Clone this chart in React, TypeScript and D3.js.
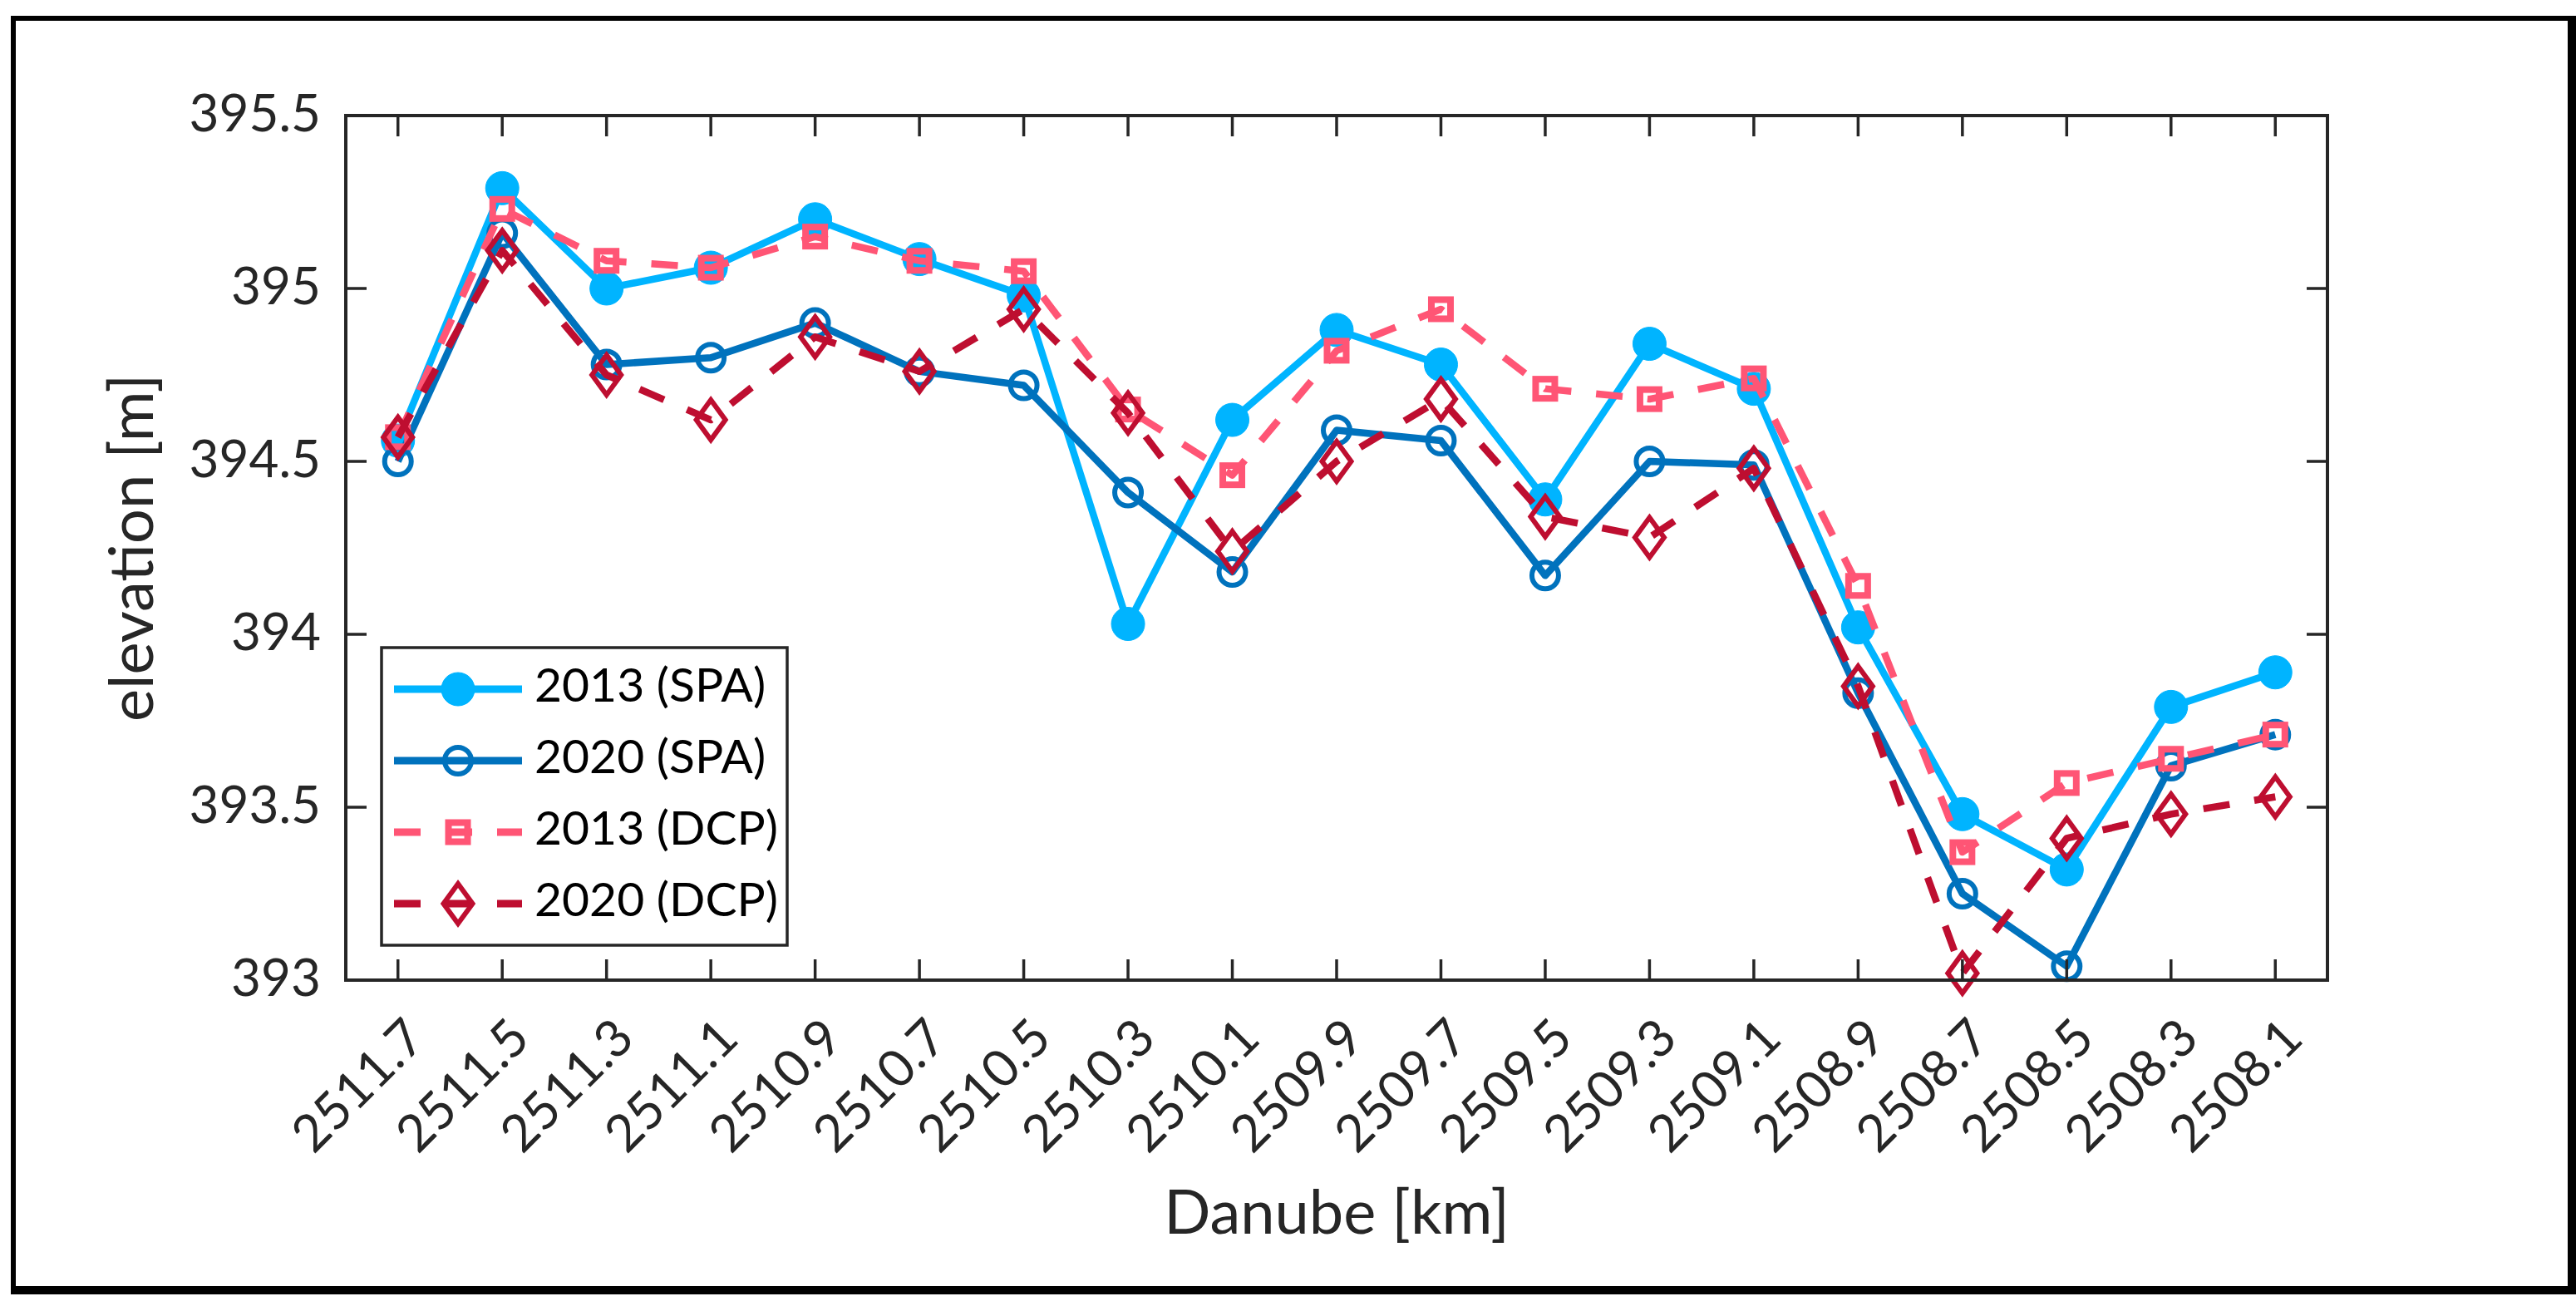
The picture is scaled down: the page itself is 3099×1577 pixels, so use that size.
import React from "react";
import * as d3 from "d3";

const km = [2511.7, 2511.5, 2511.3, 2511.1, 2510.9, 2510.7, 2510.5, 2510.3, 2510.1, 2509.9, 2509.7, 2509.5, 2509.3, 2509.1, 2508.9, 2508.7, 2508.5, 2508.3, 2508.1];
const spa2013 = [394.56, 395.29, 395.0, 395.06, 395.2, 395.085, 394.98, 394.03, 394.62, 394.88, 394.78, 394.39, 394.84, 394.71, 394.02, 393.48, 393.32, 393.79, 393.89];
const spa2020 = [394.5, 395.16, 394.78, 394.8, 394.9, 394.76, 394.72, 394.41, 394.18, 394.59, 394.56, 394.17, 394.5, 394.49, 393.83, 393.25, 393.04, 393.62, 393.71];
const dcp2013 = [394.57, 395.23, 395.08, 395.06, 395.15, 395.08, 395.05, 394.65, 394.46, 394.82, 394.94, 394.71, 394.68, 394.74, 394.14, 393.37, 393.57, 393.64, 393.71];
const dcp2020 = [394.57, 395.11, 394.75, 394.62, 394.86, 394.76, 394.94, 394.64, 394.24, 394.5, 394.68, 394.34, 394.28, 394.48, 393.85, 393.02, 393.41, 393.48, 393.53];
const yTicks = [393, 393.5, 394, 394.5, 395, 395.5];
const yTickLabels = ["393", "393.5", "394", "394.5", "395", "395.5"];
const xTickLabels = km.map((v) => v.toFixed(1));
const seriesNames = ["2013 (SPA)", "2020 (SPA)", "2013 (DCP)", "2020 (DCP)"];

const W = 3099;
const H = 1577;
const L = 416, R = 2800, T = 139, B = 1179;
const AX = "#262626";
const FONT = "Lato, 'Open Sans', sans-serif";

const C_LB = "#00B4FF";
const C_DB = "#0072BD";
const C_PK = "#FF5575";
const C_DR = "#BE0E30";

type Kind = "filled" | "open" | "square" | "diamond";

function Marker({ x, y, kind, color }: { x: number; y: number; kind: Kind; color: string }) {
  if (kind === "filled") return <circle cx={x} cy={y} r={20} fill={color} stroke={color} strokeWidth={1} />;
  if (kind === "open") return <circle cx={x} cy={y} r={16} fill="none" stroke={color} strokeWidth={6} />;
  if (kind === "square")
    return <rect x={x - 11.5} y={y - 11.5} width={23} height={23} fill="none" stroke={color} strokeWidth={8} />;
  const hw = 17.5, hh = 24;
  return (
    <path
      d={`M${x},${y - hh}L${x + hw},${y}L${x},${y + hh}L${x - hw},${y}Z`}
      fill="none"
      stroke={color}
      strokeWidth={6}
      strokeLinejoin="miter"
    />
  );
}

export default function App() {
  const xs = d3.scaleLinear().domain([2511.8, 2508.0]).range([L, R]);
  const ys = d3.scaleLinear().domain([393, 395.5]).range([B, T]);
  const line = d3
    .line<number>()
    .x((_, i) => xs(km[i]))
    .y((d) => ys(d));

  const series = [
    { name: seriesNames[0], data: spa2013, color: C_LB, kind: "filled" as Kind, dash: undefined as string | undefined },
    { name: seriesNames[1], data: spa2020, color: C_DB, kind: "open" as Kind, dash: undefined },
    { name: seriesNames[2], data: dcp2013, color: C_PK, kind: "square" as Kind, dash: "32 30" },
    { name: seriesNames[3], data: dcp2020, color: C_DR, kind: "diamond" as Kind, dash: "32 30" },
  ];

  const legRows = [829, 915, 1001, 1087];
  const tickLen = 25;

  return (
    <svg
      width={W}
      height={H}
      viewBox={`0 0 ${W} ${H}`}
      style={{ position: "absolute", left: 0, top: 0, display: "block", background: "#fff" }}
    >
      <rect x={0} y={0} width={W} height={H} fill="#fff" />
      {/* outer frame */}
      <line x1={16} y1={22} x2={3094} y2={22} stroke="#000" strokeWidth={6} />
      <line x1={16} y1={19} x2={16} y2={1556} stroke="#000" strokeWidth={6} />
      <line x1={3094} y1={19} x2={3094} y2={1556} stroke="#000" strokeWidth={10} />
      <line x1={13} y1={1552} x2={3099} y2={1552} stroke="#000" strokeWidth={10} />

      {/* series */}
      {series.map((s) => (
        <g key={s.name}>
          <path
            d={line(s.data) || ""}
            fill="none"
            stroke={s.color}
            strokeWidth={8.5}
            strokeDasharray={s.dash}
            strokeLinejoin="round"
          />
          {s.data.map((v, i) => (
            <Marker key={i} x={xs(km[i])} y={ys(v)} kind={s.kind} color={s.color} />
          ))}
        </g>
      ))}

      {/* axes box */}
      <rect x={L} y={T} width={R - L} height={B - T} fill="none" stroke={AX} strokeWidth={4} />
      {km.map((k, i) => (
        <g key={"xt" + i}>
          <line x1={xs(k)} y1={B} x2={xs(k)} y2={B - tickLen} stroke={AX} strokeWidth={3.5} />
          <line x1={xs(k)} y1={T} x2={xs(k)} y2={T + tickLen} stroke={AX} strokeWidth={3.5} />
          <text
            transform={`translate(${xs(k) + 36},${1252}) rotate(-45)`}
            textAnchor="end"
            fontFamily={FONT}
            fontSize={62}
            fill={AX}
          >
            {xTickLabels[i]}
          </text>
        </g>
      ))}
      {yTicks.map((t, i) => (
        <g key={"yt" + i}>
          <line x1={L} y1={ys(t)} x2={L + tickLen} y2={ys(t)} stroke={AX} strokeWidth={3.5} />
          <line x1={R} y1={ys(t)} x2={R - tickLen} y2={ys(t)} stroke={AX} strokeWidth={3.5} />
          <text x={386} y={ys(t) + 19} textAnchor="end" fontFamily={FONT} fontSize={62} fill={AX}>
            {yTickLabels[i]}
          </text>
        </g>
      ))}

      {/* axis labels */}
      <text x={(L + R) / 2} y={1484} textAnchor="middle" fontFamily={FONT} fontSize={74} fill={AX}>
        Danube [km]
      </text>
      <text
        transform={`translate(184,${(T + B) / 2}) rotate(-90)`}
        textAnchor="middle"
        fontFamily={FONT}
        fontSize={74}
        fill={AX}
      >
        elevation [m]
      </text>

      {/* legend */}
      <rect x={459} y={779} width={488} height={358} fill="#fff" stroke={AX} strokeWidth={3.5} />
      {series.map((s, i) => (
        <g key={"lg" + i}>
          <line
            x1={474}
            y1={legRows[i]}
            x2={628}
            y2={legRows[i]}
            stroke={s.color}
            strokeWidth={9}
            strokeDasharray={s.dash}
          />
          <Marker x={551} y={legRows[i]} kind={s.kind} color={s.color} />
          <text x={643} y={legRows[i] + 15} fontFamily={FONT} fontSize={57} fill="#000">
            {s.name}
          </text>
        </g>
      ))}
    </svg>
  );
}
